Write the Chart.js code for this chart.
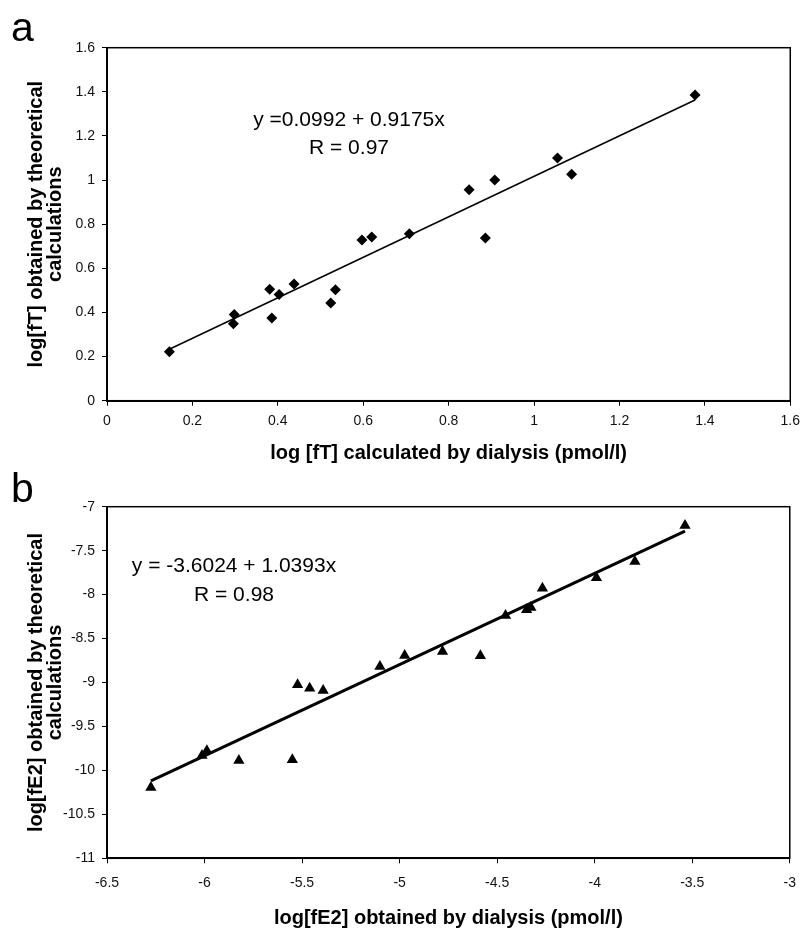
<!DOCTYPE html>
<html lang="en">
<head>
<meta charset="UTF-8">
<title>log[fT] and log[fE2]: theoretical vs dialysis</title>
<script src="https://cdn.jsdelivr.net/npm/chart.js"></script>
<style>
    body { margin: 0; background: #fff; }
    #wrap { position: relative; width: 807px; height: 931px; }
    #chartA { position: absolute; left: 0; top: 0; }
    #chartB { position: absolute; left: 0; top: 465px; }
</style>
</head>
<body>
<div id="wrap">
    <canvas id="chartA" width="807" height="465"></canvas>
    <canvas id="chartB" width="807" height="466"></canvas>
</div>
<script>
    // panel a : free testosterone
    const fT_dialysis    = [0.146, 0.298, 0.296, 0.381, 0.403, 0.386, 0.438, 0.524, 0.535, 0.597, 0.620, 0.708, 0.848, 0.908, 0.886, 1.055, 1.088, 1.377];
    const fT_theoretical = [0.222, 0.391, 0.349, 0.505, 0.481, 0.375, 0.529, 0.443, 0.503, 0.728, 0.742, 0.757, 0.956, 1.000, 0.737, 1.100, 1.026, 1.386];
    const fT_fitX = [0.146, 1.377];
    const fT_fitY = [0.233, 1.363];
    const fT_xTicks = [0, 0.2, 0.4, 0.6, 0.8, 1, 1.2, 1.4, 1.6];
    const fT_yTicks = [0, 0.2, 0.4, 0.6, 0.8, 1, 1.2, 1.4, 1.6];

    // panel b : free estradiol
    const fE2_dialysis    = [-6.275, -6.013, -5.988, -5.824, -5.550, -5.523, -5.461, -5.392, -5.101, -4.974, -4.780, -4.586, -4.457, -4.349, -4.327, -4.268, -3.991, -3.794, -3.537];
    const fE2_theoretical = [-10.195, -9.830, -9.777, -9.887, -9.879, -9.026, -9.065, -9.091, -8.817, -8.693, -8.647, -8.697, -8.237, -8.173, -8.147, -7.927, -7.807, -7.623, -7.214];
    const fE2_fitX = [-6.275, -3.537];
    const fE2_fitY = [-10.12, -7.278];
    const fE2_xTicks = [-6.5, -6, -5.5, -5, -4.5, -4, -3.5, -3];
    const fE2_yTicks = [-11, -10.5, -10, -9.5, -9, -8.5, -8, -7.5, -7];

    const FONT = 'Arial, "Liberation Sans", sans-serif';
    Chart.defaults.font.family = FONT;
    Chart.defaults.color = '#000';

    const pts = (xs, ys) => xs.map((x, i) => ({ x: x, y: ys[i] }));

    // box round the plot area (left/bottom are the thicker axis borders)
    const framePlugin = {
        id: 'frame',
        beforeDatasetsDraw(chart) {
            const { ctx, chartArea: a } = chart;
            ctx.save();
            ctx.strokeStyle = '#000';
            ctx.lineWidth = 1.5;
            ctx.strokeRect(a.left, a.top, a.right - a.left, a.bottom - a.top);
            ctx.restore();
        }
    };

    // regression text and panel letter
    const notePlugin = {
        id: 'note',
        afterDraw(chart, args, opts) {
            const ctx = chart.ctx;
            ctx.save();
            ctx.fillStyle = '#000';
            ctx.font = '21px ' + FONT;
            ctx.textAlign = 'center';
            ctx.textBaseline = 'middle';
            opts.lines.forEach((t, i) => ctx.fillText(t, opts.x, opts.y + i * opts.gap));
            ctx.font = '41px ' + FONT;
            ctx.textAlign = 'left';
            ctx.textBaseline = 'alphabetic';
            ctx.fillText(opts.letter, 11, opts.letterY);
            ctx.restore();
        }
    };

    function axis(tickVals, title, isX, fit, tickPad, titlePad) {
        return {
            type: 'linear',
            min: tickVals[0],
            max: tickVals[tickVals.length - 1],
            afterBuildTicks: s => { s.ticks = tickVals.map(v => ({ value: v })); },
            afterFit: s => { if (isX) s.height = fit; else s.width = fit; },
            ticks: {
                font: { size: 14 },
                color: '#111',
                padding: tickPad,
                autoSkip: false,
                maxRotation: 0,
                callback: v => String(v)
            },
            grid: { drawOnChartArea: false, drawTicks: true, tickLength: 5, color: '#000' },
            border: { display: true, color: '#000', width: 2 },
            title: {
                display: true,
                text: title,
                color: '#000',
                font: { size: 20, weight: 'bold', lineHeight: isX ? 1.2 : 0.95 },
                padding: titlePad
            }
        };
    }

    function makeChart(id, d) {
        return new Chart(document.getElementById(id), {
            type: 'scatter',
            data: {
                datasets: [
                    {
                        data: pts(d.xs, d.ys),
                        pointStyle: d.marker,
                        pointRadius: d.radius,
                        backgroundColor: '#000',
                        borderColor: '#000',
                        borderWidth: 0
                    },
                    {
                        data: pts(d.fitX, d.fitY),
                        showLine: true,
                        pointRadius: 0,
                        borderColor: '#000',
                        borderWidth: d.lineWidth
                    }
                ]
            },
            options: {
                responsive: false,
                animation: false,
                layout: { padding: { top: d.padTop, right: 9.3, left: 0, bottom: 0 } },
                plugins: {
                    legend: { display: false },
                    tooltip: { enabled: false },
                    note: d.note
                },
                scales: {
                    x: axis(d.xTicks, d.xTitle, true, d.xFit, d.xTickPad, { top: 0, bottom: d.xTitlePad }),
                    y: axis(d.yTicks, d.yTitle, false, 107, 7, { top: 26.5, bottom: 0 })
                }
            },
            plugins: [framePlugin, notePlugin]
        });
    }

    makeChart('chartA', {
        xs: fT_dialysis, ys: fT_theoretical, fitX: fT_fitX, fitY: fT_fitY,
        xTicks: fT_xTicks, yTicks: fT_yTicks,
        marker: 'rectRot', radius: 5.5, lineWidth: 1.5,
        padTop: 47.7, xFit: 64.3, xTickPad: 7, xTitlePad: 0,
        xTitle: 'log [fT] calculated by dialysis (pmol/l)',
        yTitle: ['log[fT] obtained by theoretical', 'calculations'],
        note: { lines: ['y =0.0992 + 0.9175x', 'R = 0.97'], x: 349, y: 120.7, gap: 27.6, letter: 'a', letterY: 41 }
    });

    makeChart('chartB', {
        xs: fE2_dialysis, ys: fE2_theoretical, fitX: fE2_fitX, fitY: fE2_fitY,
        xTicks: fE2_xTicks, yTicks: fE2_yTicks,
        marker: 'triangle', radius: 6.5, lineWidth: 3,
        padTop: 41.7, xFit: 72.7, xTickPad: 11, xTitlePad: 1,
        xTitle: 'log[fE2] obtained by dialysis (pmol/l)',
        yTitle: ['log[fE2] obtained by theoretical', 'calculations'],
        note: { lines: ['y = -3.6024 + 1.0393x', 'R = 0.98'], x: 234, y: 101.7, gap: 28.3, letter: 'b', letterY: 37 }
    });
</script>
</body>
</html>
